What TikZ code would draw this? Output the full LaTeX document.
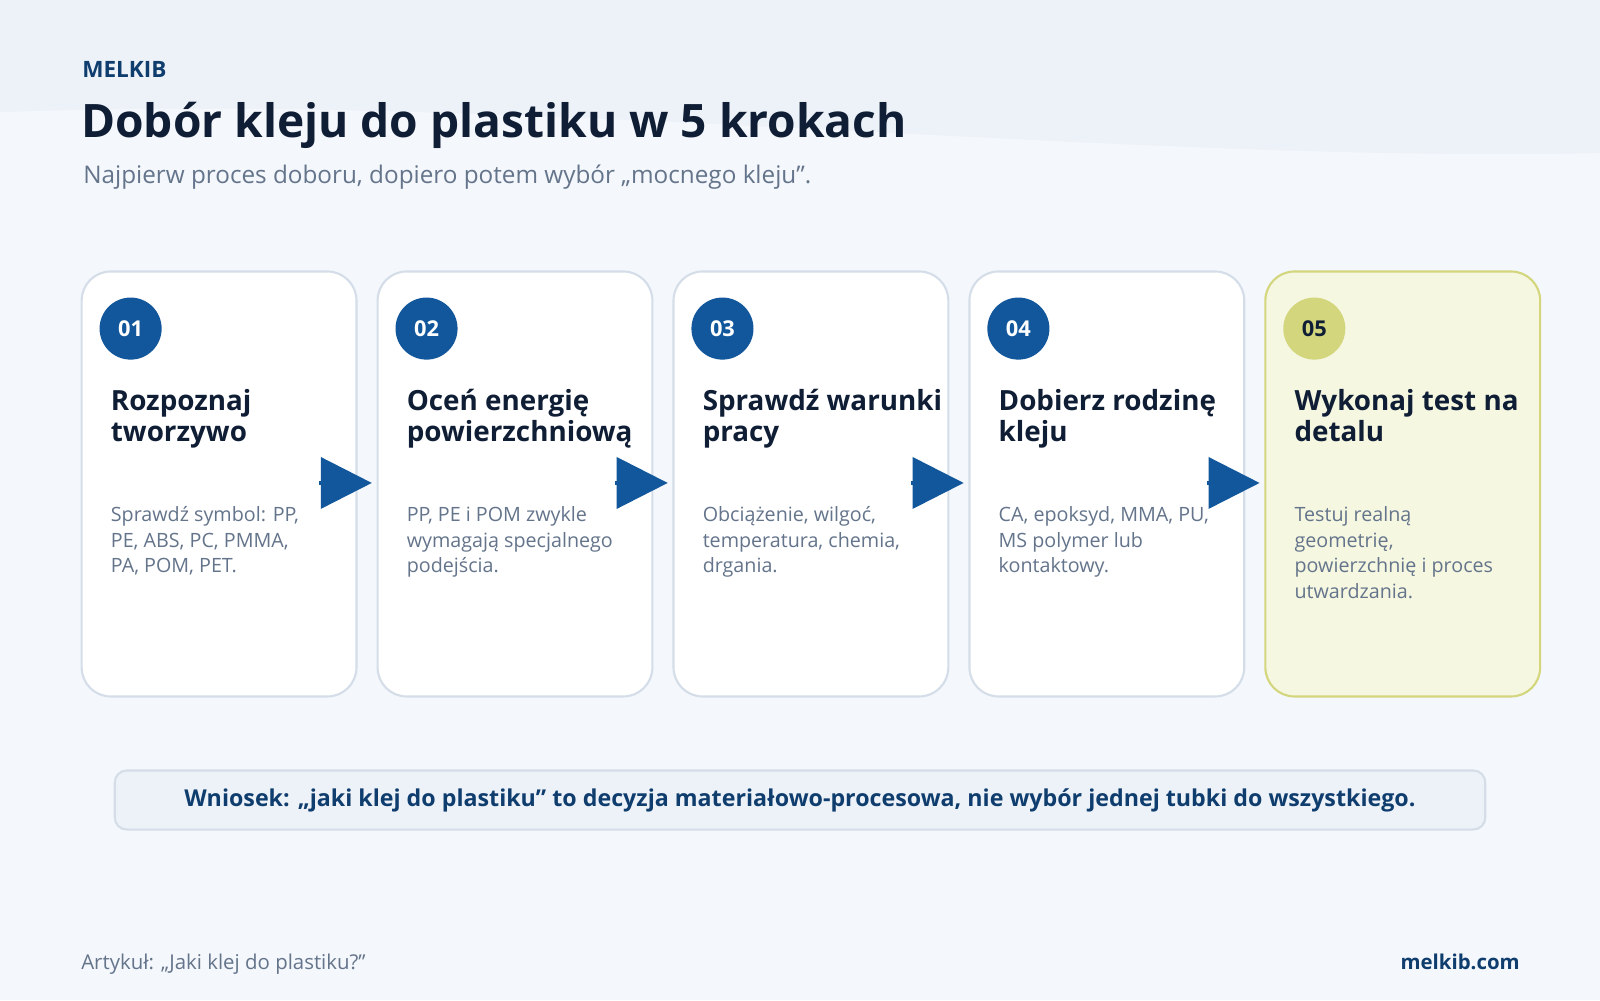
\documentclass[tikz,border=0pt]{standalone}
\usepackage{fontspec}
\setmainfont{Open Sans}
\usetikzlibrary{positioning,arrows.meta,calc}
\definecolor{bgpage}{HTML}{F4F7FB}
\definecolor{bgwave}{HTML}{EDF2F9}
\definecolor{navy}{HTML}{0F3D6E}
\definecolor{ink}{HTML}{0F1E35}
\definecolor{grayt}{HTML}{64748B}
\definecolor{blue}{HTML}{12579B}
\definecolor{edge}{HTML}{D5DEE8}
\definecolor{lime}{HTML}{D4D67E}
\definecolor{limebg}{HTML}{F5F7E1}
\tikzset{
  card/.style={draw=edge, line width=0.6pt, fill=white, rounded corners=0.29cm,
    minimum width=2.745cm, minimum height=4.245cm, anchor=north west},
  lastcard/.style={card, draw=lime, fill=limebg},
  num/.style={circle, fill=blue, minimum size=0.62cm, inner sep=0pt, text=white,
    font=\fontsize{6.2}{7}\selectfont\bfseries},
  lastnum/.style={num, fill=lime, text=ink},
  head/.style={anchor=north west, align=left, text=ink, inner sep=0pt,
    font=\fontsize{7.9}{8.8}\selectfont\bfseries},
  body/.style={anchor=north west, align=left, text=grayt, inner sep=0pt,
    font=\fontsize{5.6}{7.25}\selectfont},
  steparrow/.style={draw=blue, fill=blue, line width=1pt, -{Triangle[length=0.51cm,width=0.51cm]}}
}
\begin{document}
\begin{tikzpicture}[x=0.0102cm,y=-0.0102cm]
\useasboundingbox (0,0) rectangle (1568,980);
\fill[bgpage] (0,0) rectangle (1568,980);
\fill[bgwave] (0,0) -- (1568,0) -- (1568,150) .. controls (1100,160) and (500,90) .. (0,110) -- cycle;

\node[anchor=base west, inner sep=0pt, text=navy, font=\fontsize{6.4}{7}\selectfont\bfseries] (brand) at (80,76) {MELKIB};
\node[anchor=base west, inner sep=0pt, text=ink, font=\fontsize{13.1}{14}\selectfont\bfseries] (title) at (79,135) {Dobór kleju do plastiku w 5 krokach};
\node[anchor=base west, inner sep=0pt, text=grayt, font=\fontsize{6.9}{8}\selectfont] (sub) at (81,180) {Najpierw proces doboru, dopiero potem wybór „mocnego kleju”.};

% karty
\node[card] (c1) at (79,265) {};
\node[card] (c2) at (369,265) {};
\node[card] (c3) at (659,265) {};
\node[card] (c4) at (949,265) {};
\node[lastcard] (c5) at (1239,265) {};

\node[num] (n1) at (128,322) {01};
\node[num] (n2) at (418,322) {02};
\node[num] (n3) at (708,322) {03};
\node[num] (n4) at (998,322) {04};
\node[lastnum] (n5) at (1288,322) {05};

\node[head] (h1) at (108,381) {Rozpoznaj\\tworzywo};
\node[head] (h2) at (398,381) {Oceń energię\\powierzchniową};
\node[head] (h3) at (688,381) {Sprawdź warunki\\pracy};
\node[head] (h4) at (978,381) {Dobierz rodzinę\\kleju};
\node[head] (h5) at (1268,381) {Wykonaj test na\\detalu};

\node[body] (b1) at (108,496) {Sprawdź symbol: PP,\\PE, ABS, PC, PMMA,\\PA, POM, PET.};
\node[body] (b2) at (398,496) {PP, PE i POM zwykle\\wymagają specjalnego\\podejścia.};
\node[body] (b3) at (688,496) {Obciążenie, wilgoć,\\temperatura, chemia,\\drgania.};
\node[body] (b4) at (978,496) {CA, epoksyd, MMA, PU,\\MS polymer lub\\kontaktowy.};
\node[body] (b5) at (1268,496) {Testuj realną\\geometrię,\\powierzchnię i proces\\utwardzania.};

% strzalki
\draw[steparrow] ($(c1.east)+(-38,-1)$) -- ($(c1.east)+(14,-1)$);
\draw[steparrow] ($(c2.east)+(-38,-1)$) -- ($(c2.east)+(14,-1)$);
\draw[steparrow] ($(c3.east)+(-38,-1)$) -- ($(c3.east)+(14,-1)$);
\draw[steparrow] ($(c4.east)+(-38,-1)$) -- ($(c4.east)+(14,-1)$);

\node[draw=edge, line width=0.6pt, fill=bgwave, rounded corners=0.12cm, minimum width=13.69cm,
  minimum height=0.59cm, text=navy, font=\fontsize{6.6}{8}\selectfont\bfseries] (concl) at (784,784)
  {Wniosek: „jaki klej do plastiku” to decyzja materiałowo-procesowa, nie wybór jednej tubki do wszystkiego.};

\node[anchor=base west, inner sep=0pt, text=grayt, font=\fontsize{5.8}{7}\selectfont] (art) at (79,950) {Artykuł: „Jaki klej do plastiku?”};
\node[anchor=base east, inner sep=0pt, text=navy, font=\fontsize{5.8}{7}\selectfont\bfseries] (site) at (1490,950) {melkib.com};
\end{tikzpicture}
\end{document}
